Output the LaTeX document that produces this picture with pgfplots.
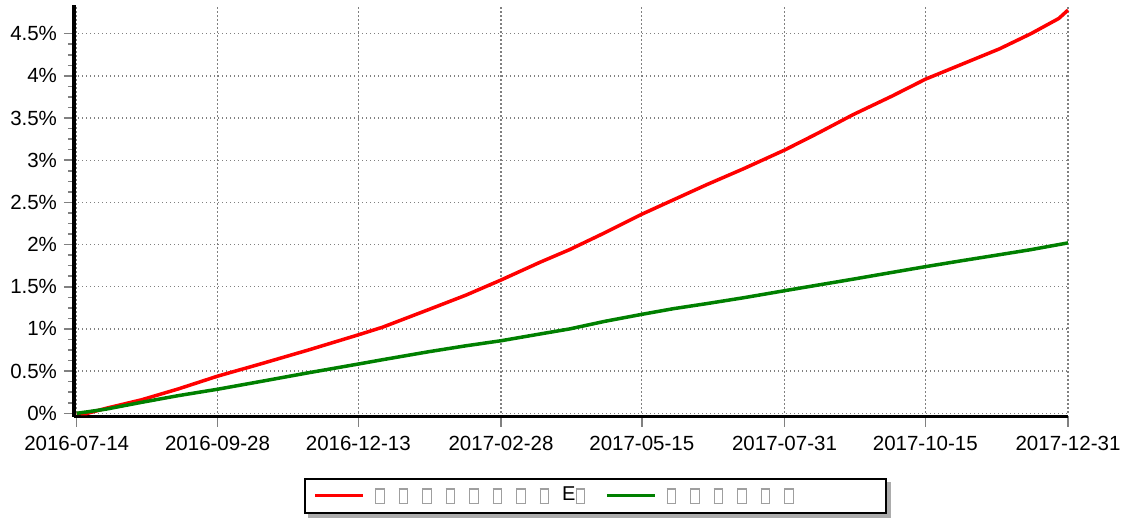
\documentclass[border=0pt]{standalone}
\usepackage{fontspec}
\setmainfont{Liberation Sans}
\usepackage{pgfplots}
\pgfplotsset{compat=1.18}
\usetikzlibrary{backgrounds}
\definecolor{rline}{RGB}{255,0,0}
\definecolor{gline}{RGB}{0,128,0}
\newcommand\tofu{\raisebox{-2bp}{\textcolor{gray!75}{\fboxsep=0pt\fboxrule=1.1bp\fbox{\rule{0pt}{13bp}\hspace{7.5bp}}}}}
\newcommand\slot[1]{\makebox[23.5bp][l]{#1}}
\begin{document}
\begin{tikzpicture}
\useasboundingbox (0,0) rectangle (1126bp,519bp);
\begin{axis}[
  at={(74bp,102.2bp)}, anchor=south west,
  scale only axis, width=994bp, height=411.8bp,
  xmin=-1.45, xmax=535, ymin=-0.0415, ymax=4.84,
  axis x line=bottom, axis y line=left,
  axis line style={-, line width=3bp, black},
  xtick={0,76,152,229,305,382,458,535},
  xticklabels={2016-07-14,2016-09-28,2016-12-13,2017-02-28,2017-05-15,2017-07-31,2017-10-15,2017-12-31},
  ytick={0,0.5,1,1.5,2,2.5,3,3.5,4,4.5},
  yticklabels={0\%,0.5\%,1\%,1.5\%,2\%,2.5\%,3\%,3.5\%,4\%,4.5\%},
  minor x tick num=3, minor y tick num=3,
  tick align=outside,
  major tick length=10bp, minor tick length=6bp,
  tick style={gray, line width=1.5bp},
  grid=major,
  major grid style={gray, line width=1.3bp, dash pattern=on 1.3bp off 2.7bp},
  tick label style={font=\fontsize{20.5bp}{24bp}\selectfont},
  xticklabel style={yshift=-6bp},
  yticklabel style={xshift=-3.5bp},
  clip=false,
  legend style={
    name=leg,
    at={(0.2311,-0.1476)}, anchor=north west,
    draw=black, line width=2bp, fill=white,
    inner xsep=9bp, inner ysep=8bp,
    nodes={inner sep=0pt, text height=14bp, text depth=4bp, anchor=west},
    column sep=0pt,
    font=\fontsize{20bp}{22bp}\selectfont,
  },
  legend columns=2,
  legend image code/.code={\draw[#1, line width=3.5bp] (0bp,0bp) -- (48bp,0bp);},
]
\addplot[rline, line width=3.5bp, line join=round] coordinates {
(0,0) (5,-0.005) (16,0.06) (35,0.16) (55,0.29) (76,0.44) (100,0.59) (125,0.75)
(152,0.93) (165,1.02) (190,1.23) (210,1.40) (229,1.58) (250,1.79) (266,1.94)
(285,2.14) (305,2.36) (322,2.53) (340,2.71) (360,2.90) (382,3.12) (400,3.32)
(419,3.54) (440,3.76) (458,3.96) (478,4.14) (498,4.32) (515,4.50) (530,4.68) (535,4.78)
};
\addlegendentry{\makebox[240bp][l]{\hspace{10bp}\slot{\tofu}\slot{\tofu}\slot{\tofu}\slot{\tofu}\slot{\tofu}\slot{\tofu}\slot{\tofu}\slot{\tofu}\hspace{-1bp}E\tofu}}
\addplot[gline, line width=3.5bp, line join=round] coordinates {
(0,0) (5,0.015) (16,0.05) (35,0.13) (55,0.21) (76,0.285) (100,0.38) (125,0.48)
(152,0.584) (165,0.635) (190,0.73) (210,0.80) (229,0.86) (250,0.94) (266,1.00)
(285,1.09) (305,1.173) (322,1.24) (340,1.30) (360,1.37) (382,1.453) (400,1.52)
(419,1.59) (440,1.67) (458,1.738) (478,1.81) (498,1.88) (515,1.94) (530,2.00) (535,2.02)
};
\addlegendentry{\makebox[220bp][l]{\hspace{10bp}\slot{\tofu}\slot{\tofu}\slot{\tofu}\slot{\tofu}\slot{\tofu}\slot{\tofu}}}
\end{axis}
\begin{pgfonlayer}{background}
\fill[gray!65] ([shift={(4bp,-4bp)}]leg.south west) rectangle ([shift={(4bp,-4bp)}]leg.north east);
\end{pgfonlayer}
\end{tikzpicture}
\end{document}
